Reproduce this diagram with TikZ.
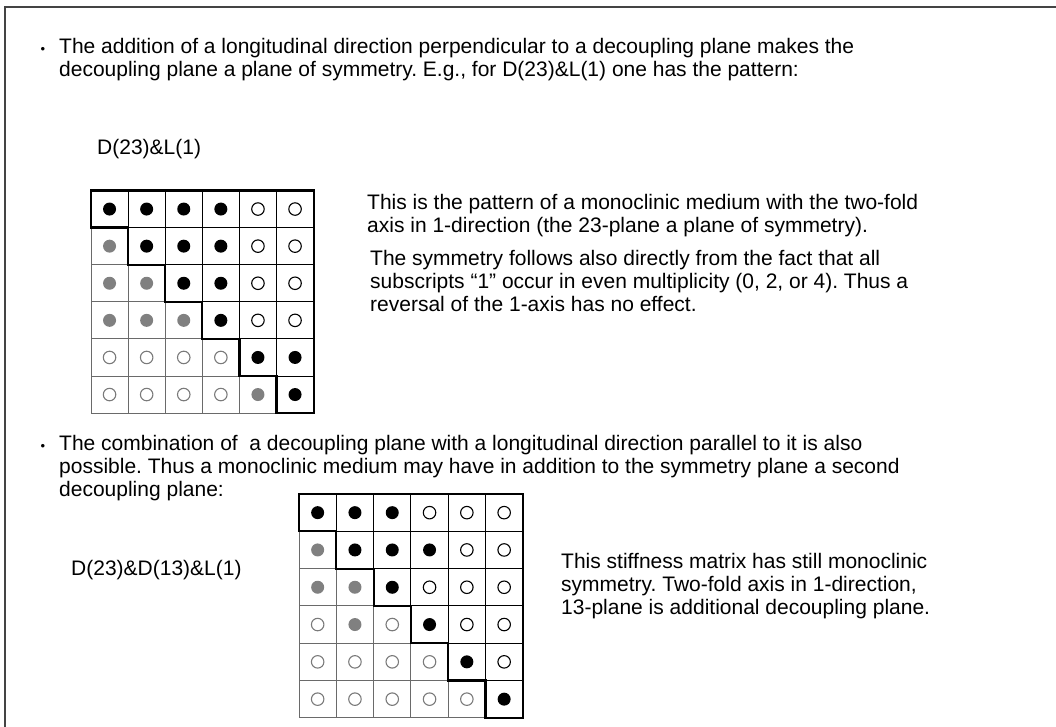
\documentclass[tikz,border=0pt]{standalone}
\usepackage{fontspec}
\setmainfont{Liberation Sans}
\definecolor{framegray}{HTML}{444444}
\definecolor{midgray}{HTML}{808080}
\definecolor{linegray}{HTML}{6A6A6A}
\definecolor{ringgray}{HTML}{7A7A7A}
\tikzset{
  txt/.style={inner sep=0pt, anchor=base west, font=\fontsize{21}{23}\selectfont},
  lbl/.style={inner sep=0pt, anchor=base west, font=\fontsize{21}{23}\selectfont},
  bul/.style={inner sep=0pt, anchor=base, font=\fontsize{13}{13}\selectfont},
  dot/.style={circle, inner sep=0pt, minimum size=13pt},
  cellB/.style={dot, fill=black},
  cellG/.style={dot, fill=midgray},
  cellO/.style={dot, minimum size=12.5pt, draw=black, line width=1.1pt},
  cellW/.style={dot, minimum size=12.5pt, draw=ringgray, line width=1.1pt},
  gridlo/.style={draw=linegray, line width=1pt},
  gridhi/.style={draw=black, line width=1pt},
  stair/.style={draw=black, line width=2.2pt, line join=miter},
}
\newcommand{\drawpattern}[5]{% name, x0, y0, cs, rows
  \foreach \rw [count=\r] in {#5}{
    \foreach \t [count=\c] in \rw {
      \path[gridlo] ({#2+(\c-1)*#4},{#3+(\r-1)*#4}) rectangle ++(#4,#4);
    }
  }
  \foreach \r in {1,...,6}{
    \foreach \c in {\r,...,6}{
      \path[gridhi] ({#2+(\c-1)*#4},{#3+(\r-1)*#4}) rectangle ++(#4,#4);
    }
  }
  \foreach \rw [count=\r] in {#5}{
    \foreach \t [count=\c] in \rw {
      \node[cell\t] (#1-\r-\c) at ({#2+(\c-0.5)*#4},{#3+(\r-0.5)*#4}) {};
    }
  }
  \path[stair] (#2,#3) -- ++(0,#4) -- ++(#4,0) -- ++(0,#4) -- ++(#4,0)
     -- ++(0,#4) -- ++(#4,0) -- ++(0,#4) -- ++(#4,0) -- ++(0,#4) -- ++(#4,0)
     -- ++(0,#4) -- ++(#4,0) -- ({#2+6*#4},#3) -- cycle;
}
\begin{document}
\frenchspacing
\begin{tikzpicture}[x=1pt,y=-1pt]
\useasboundingbox (0,0) rectangle (1056,727);
\draw[framegray, line width=2pt] (4.5,727) -- (4.5,7.5) -- (1056,7.5);

% bullet 1
\node[bul] (b1) at (43,54) {•};
\node[txt] (t1a) at (59,54) {The addition of a longitudinal direction perpendicular to a decoupling plane makes the};
\node[txt] (t1b) at (59,77) {decoupling plane a plane of symmetry. E.g., for D(23)\&L(1) one has the pattern:};

\node[lbl] (l1) at (97,155) {D(23)\&L(1)};

\drawpattern{ma}{91}{190.5}{37.1}{{B,B,B,B,O,O},{G,B,B,B,O,O},{G,G,B,B,O,O},{G,G,G,B,O,O},{W,W,W,W,B,B},{W,W,W,W,G,B}}

\node[txt] (p1a) at (367,210) {This is the pattern of a monoclinic medium with the two-fold};
\node[txt] (p1b) at (367,233) {axis in 1-direction (the 23-plane a plane of symmetry).};
\node[txt] (p2a) at (370,265) {The symmetry follows also directly from the fact that all};
\node[txt] (p2b) at (370,288) {subscripts “1” occur in even multiplicity (0, 2, or 4). Thus a};
\node[txt] (p2c) at (370,311) {reversal of the 1-axis has no effect.};

% bullet 2
\node[bul] (b2) at (43,450) {•};
\node[txt] (t2a) at (59,450) {The combination of \ a decoupling plane with a longitudinal direction parallel to it is also};
\node[txt] (t2b) at (59,473) {possible. Thus a monoclinic medium may have in addition to the symmetry plane a second};
\node[txt] (t2c) at (59,496) {decoupling plane:};

\node[lbl] (l2) at (71,575) {D(23)\&D(13)\&L(1)};

\drawpattern{mb}{299}{494}{37.3}{{B,B,B,O,O,O},{G,B,B,B,O,O},{G,G,B,O,O,O},{W,G,W,B,O,O},{W,W,W,W,B,O},{W,W,W,W,W,B}}

\node[txt] (p3a) at (561,568) {This stiffness matrix has still monoclinic};
\node[txt] (p3b) at (561,591) {symmetry. Two-fold axis in 1-direction,};
\node[txt] (p3c) at (561,614) {13-plane is additional decoupling plane.};
\end{tikzpicture}
\end{document}
